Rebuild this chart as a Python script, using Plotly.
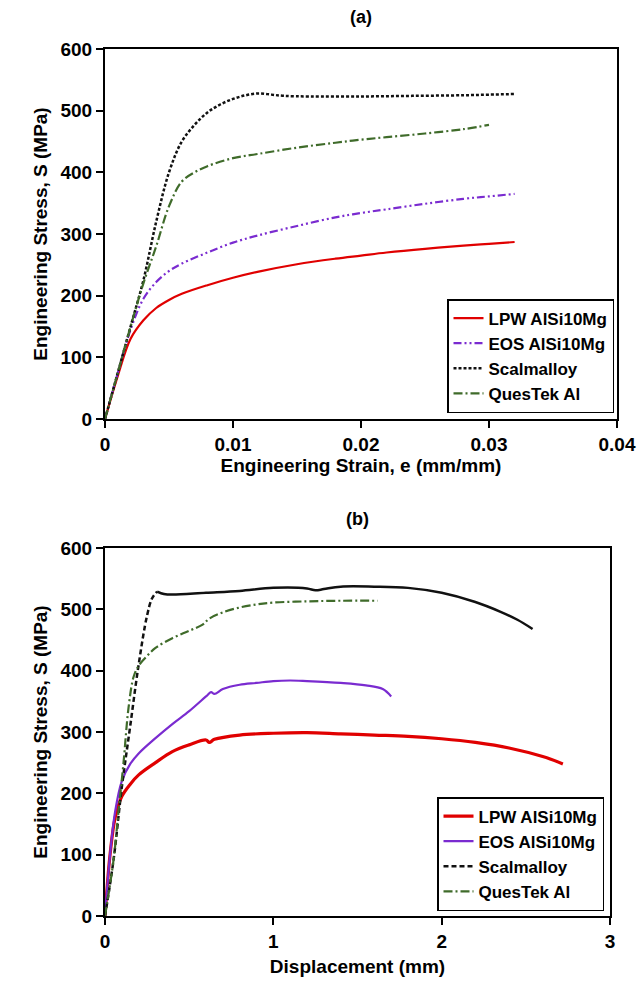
import plotly.graph_objects as go

# ---------- Panel (a): engineering strain vs stress ----------
lpw_a_e = [0, 0.001, 0.002, 0.003, 0.004, 0.005, 0.006, 0.008, 0.010, 0.012, 0.015, 0.018, 0.020, 0.022, 0.025, 0.028, 0.030, 0.032]
lpw_a_s = [0, 70, 130, 160, 180, 193, 203, 217, 229, 239, 251, 260, 265, 270, 276, 281, 284, 287]

eos_a_e = [0, 0.001, 0.002, 0.003, 0.004, 0.005, 0.006, 0.008, 0.010, 0.012, 0.015, 0.018, 0.020, 0.022, 0.025, 0.028, 0.030, 0.032]
eos_a_s = [0, 75, 145, 195, 222, 240, 252, 270, 286, 298, 313, 327, 334, 340, 349, 357, 361, 365]

scal_a_e = [0, 0.001, 0.002, 0.003, 0.004, 0.005, 0.006, 0.007, 0.008, 0.009, 0.010, 0.011, 0.012, 0.013, 0.014, 0.016, 0.020, 0.024, 0.028, 0.030, 0.032]
scal_a_s = [0, 75, 150, 225, 320, 400, 450, 477, 497, 510, 519, 525, 528, 526, 524, 523, 523, 524, 525, 526, 527]

ques_a_e = [0, 0.001, 0.002, 0.003, 0.004, 0.005, 0.006, 0.007, 0.008, 0.010, 0.012, 0.015, 0.018, 0.020, 0.022, 0.025, 0.028, 0.030]
ques_a_s = [0, 75, 150, 220, 280, 345, 385, 400, 410, 423, 430, 440, 448, 453, 457, 463, 470, 477]

# ---------- Panel (b): displacement vs stress ----------
lpw_b_d = [0, 0.03, 0.06, 0.10, 0.15, 0.20, 0.30, 0.40, 0.50, 0.60, 0.62, 0.65, 0.80, 1.00, 1.20, 1.40, 1.60, 1.80, 2.00, 2.20, 2.40, 2.60, 2.72]
lpw_b_s = [0, 100, 160, 195, 215, 230, 250, 268, 279, 287, 283, 288, 295, 298, 299, 297, 295, 293, 289, 283, 274, 260, 248]

eos_b_d = [0, 0.03, 0.06, 0.10, 0.15, 0.20, 0.30, 0.40, 0.50, 0.60, 0.63, 0.65, 0.70, 0.80, 0.90, 1.00, 1.10, 1.20, 1.40, 1.55, 1.65, 1.70]
eos_b_s = [0, 100, 170, 220, 248, 265, 290, 313, 334, 358, 365, 362, 370, 377, 380, 383, 384, 383, 380, 376, 370, 358]

scal_b_rise_d = [0, 0.05, 0.10, 0.15, 0.20, 0.25, 0.28, 0.31]
scal_b_rise_s = [0, 90, 210, 310, 410, 490, 518, 529]
scal_b_d = [0.31, 0.35, 0.40, 0.60, 0.80, 1.00, 1.20, 1.25, 1.30, 1.40, 1.60, 1.80, 2.00, 2.20, 2.35, 2.45, 2.54]
scal_b_s = [529, 525, 524, 527, 530, 535, 534, 531, 533, 537, 537, 535, 527, 512, 496, 483, 468]

ques_b_d = [0, 0.05, 0.08, 0.11, 0.14, 0.17, 0.20, 0.25, 0.30, 0.40, 0.50, 0.58, 0.62, 0.70, 0.80, 0.90, 1.00, 1.20, 1.40, 1.62]
ques_b_s = [0, 90, 170, 250, 340, 390, 408, 424, 437, 453, 465, 475, 485, 495, 503, 508, 511, 513, 514, 514]

names = ["LPW AlSi10Mg", "EOS AlSi10Mg", "Scalmalloy", "QuesTek Al"]

RED = "#e00000"
PURPLE = "#7a2bd0"
BLACK = "#111111"
GREEN = "#3f6b2a"
DASH_EOS = "8px,3px,2px,3px,2px,3px"
DASH_Q = "9px,3px,2px,3px"
DASH_S = "3px,2px"

fig = go.Figure()

# panel (a)
fig.add_trace(go.Scatter(x=lpw_a_e, y=lpw_a_s, mode="lines", name=names[0], line=dict(color=RED, width=2.2), line_shape="spline", xaxis="x", yaxis="y", legend="legend"))
fig.add_trace(go.Scatter(x=eos_a_e, y=eos_a_s, mode="lines", name=names[1], line=dict(color=PURPLE, width=2.2, dash=DASH_EOS), line_shape="spline", xaxis="x", yaxis="y", legend="legend"))
fig.add_trace(go.Scatter(x=scal_a_e, y=scal_a_s, mode="lines", name=names[2], line=dict(color=BLACK, width=2.5, dash=DASH_S), line_shape="spline", xaxis="x", yaxis="y", legend="legend"))
fig.add_trace(go.Scatter(x=ques_a_e, y=ques_a_s, mode="lines", name=names[3], line=dict(color=GREEN, width=2.2, dash=DASH_Q), line_shape="spline", xaxis="x", yaxis="y", legend="legend"))

# panel (b)
fig.add_trace(go.Scatter(x=lpw_b_d, y=lpw_b_s, mode="lines", name=names[0], line=dict(color=RED, width=3.2), line_shape="spline", xaxis="x2", yaxis="y2", legend="legend2"))
fig.add_trace(go.Scatter(x=eos_b_d, y=eos_b_s, mode="lines", name=names[1], line=dict(color=PURPLE, width=2.2), line_shape="spline", xaxis="x2", yaxis="y2", legend="legend2"))
fig.add_trace(go.Scatter(x=scal_b_rise_d, y=scal_b_rise_s, mode="lines", name=names[2], line=dict(color=BLACK, width=2.5, dash="5px,3px"), line_shape="spline", xaxis="x2", yaxis="y2", legend="legend2"))
fig.add_trace(go.Scatter(x=scal_b_d, y=scal_b_s, mode="lines", name=names[2], showlegend=False, line=dict(color=BLACK, width=2.5), line_shape="spline", xaxis="x2", yaxis="y2"))
fig.add_trace(go.Scatter(x=ques_b_d, y=ques_b_s, mode="lines", name=names[3], line=dict(color=GREEN, width=2.2, dash=DASH_Q), line_shape="spline", xaxis="x2", yaxis="y2", legend="legend2"))

W, H = 642, 990
FONT = "Liberation Sans, Arial, sans-serif"

def px_x(p):
    return p / W

def px_y(p):
    return 1 - p / H

axis_common = dict(
    showline=True, linecolor="black", linewidth=2, mirror=True,
    ticks="outside", ticklen=7, tickwidth=2, tickcolor="black",
    showgrid=False, zeroline=False, automargin=False,
    tickfont=dict(family=FONT, size=19, color="black", weight="bold"),
)

title_font = dict(family=FONT, size=19, color="black", weight="bold")

legend_common = dict(
    bgcolor="white", bordercolor="black", borderwidth=1.5,
    font=dict(family=FONT, size=17, color="black", weight="bold"),
    itemwidth=30, tracegroupgap=0, xanchor="right", yanchor="bottom",
)

fig.update_layout(
    width=W, height=H,
    margin=dict(l=0, r=0, t=0, b=0),
    paper_bgcolor="white", plot_bgcolor="white",
    showlegend=True,
    xaxis=dict(domain=[px_x(105), px_x(617)], range=[0, 0.04], dtick=0.01, tick0=0,
               anchor="y", title=dict(text="Engineering Strain, e (mm/mm)", font=title_font, standoff=2), **axis_common),
    yaxis=dict(domain=[px_y(419), px_y(49)], range=[0, 600], dtick=100,
               anchor="x", title=dict(text="Engineering Stress, S (MPa)", font=title_font, standoff=8), **axis_common),
    xaxis2=dict(domain=[px_x(105), px_x(610)], range=[0, 3], dtick=1, tick0=0,
                anchor="y2", title=dict(text="Displacement (mm)", font=title_font, standoff=9), **axis_common),
    yaxis2=dict(domain=[px_y(916), px_y(548)], range=[0, 600], dtick=100,
                anchor="x2", title=dict(text="Engineering Stress, S (MPa)", font=title_font, standoff=8), **axis_common),
    legend=dict(x=px_x(614), y=px_y(413), **legend_common),
    legend2=dict(x=px_x(604), y=px_y(911), **legend_common),
    annotations=[
        dict(text="(a)", x=px_x(361), y=px_y(17), xref="paper", yref="paper", showarrow=False,
             font=dict(family=FONT, size=18, color="black", weight="bold"), xanchor="center", yanchor="middle"),
        dict(text="(b)", x=px_x(357), y=px_y(519), xref="paper", yref="paper", showarrow=False,
             font=dict(family=FONT, size=18, color="black", weight="bold"), xanchor="center", yanchor="middle"),
    ],
)

fig.write_html("out.html")
